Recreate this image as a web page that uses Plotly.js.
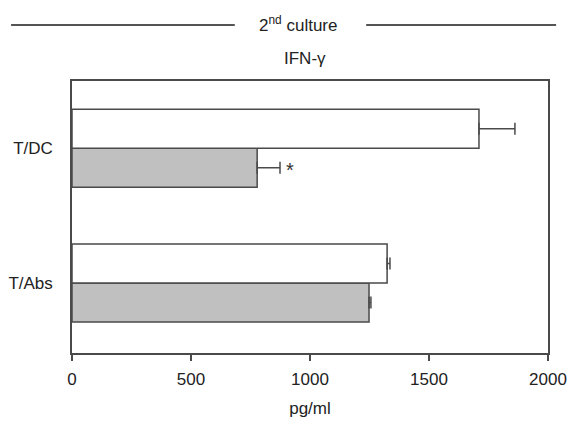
<!DOCTYPE html>
<html>
<head>
<meta charset="utf-8">
<script src="https://cdn.plot.ly/plotly-3.0.1.min.js"></script>
<style>html,body{margin:0;padding:0;background:#fff;}#chart{width:568px;height:421px;}</style>
</head>
<body>
<div id="chart"></div>
<script>
// Data
const groups = ['T/Abs', 'T/DC'];
const groupPos = [0, 1];
const whiteValues = [1324, 1710];
const whiteErrors = [12, 151];
const grayValues = [1248, 778];
const grayErrors = [8, 96];
const xTicks = [0, 500, 1000, 1500, 2000];

const edge = '#4a4a4a';
const fontFam = '"Liberation Sans", Arial, Helvetica, sans-serif';

const grayTrace = {
  type: 'bar', orientation: 'h',
  y: groupPos, x: grayValues,
  marker: {color: '#c0c0c0', line: {color: edge, width: 1.5}},
  error_x: {type: 'data', array: grayErrors, arrayminus: grayErrors.map(() => 0), symmetric: false,
            color: edge, thickness: 1.5, width: 6},
  hoverinfo: 'x'
};
const whiteTrace = {
  type: 'bar', orientation: 'h',
  y: groupPos, x: whiteValues,
  marker: {color: '#ffffff', line: {color: edge, width: 1.5}},
  error_x: {type: 'data', array: whiteErrors, arrayminus: whiteErrors.map(() => 0), symmetric: false,
            color: edge, thickness: 1.5, width: 6},
  hoverinfo: 'x'
};

const layout = {
  width: 568, height: 421,
  margin: {l: 72, r: 20, t: 81, b: 68},
  paper_bgcolor: '#fff', plot_bgcolor: '#fff',
  font: {family: fontFam, size: 17, color: '#222'},
  showlegend: false,
  barmode: 'group',
  bargap: 0.422,
  bargroupgap: 0,
  xaxis: {
    range: [0, 2000], autorange: false,
    tickvals: xTicks, ticktext: xTicks.map(String),
    ticks: 'outside', ticklen: 6, tickwidth: 1.5, tickcolor: edge,
    ticklabelstandoff: 4,
    showline: true, linecolor: edge, linewidth: 1.8, mirror: true,
    showgrid: false, zeroline: false,
    tickfont: {size: 17},
    title: {text: 'pg/ml', font: {size: 17}, standoff: 14}
  },
  yaxis: {
    range: [-0.5185, 1.4985], autorange: false,
    tickvals: groupPos, ticktext: groups,
    ticks: '', ticklabelstandoff: 14,
    showline: true, linecolor: edge, linewidth: 1.8, mirror: true,
    showgrid: false, zeroline: false,
    tickfont: {size: 17}
  },
  shapes: [
    {type: 'line', xref: 'paper', yref: 'paper', x0: -0.128, x1: 0.342, y0: 1.206, y1: 1.206,
     line: {color: '#555', width: 2}},
    {type: 'line', xref: 'paper', yref: 'paper', x0: 0.618, x1: 1.017, y0: 1.206, y1: 1.206,
     line: {color: '#555', width: 2}}
  ],
  annotations: [
    {text: '2<sup>nd</sup> culture', xref: 'paper', yref: 'paper', x: 0.475, y: 1.21,
     showarrow: false, xanchor: 'center', yanchor: 'middle', font: {size: 17}},
    {text: 'IFN-γ', xref: 'paper', yref: 'paper', x: 0.489, y: 1.081,
     showarrow: false, xanchor: 'center', yanchor: 'middle', font: {size: 17}},
    {text: '*', xref: 'x', yref: 'y', x: grayValues[1] + grayErrors[1] + 40, y: groupPos[1] - 0.16,
     showarrow: false, xanchor: 'center', yanchor: 'middle', font: {size: 20, color: '#333'}}
  ]
};

Plotly.newPlot('chart', [grayTrace, whiteTrace], layout, {displayModeBar: false, staticPlot: true});
</script>
</body>
</html>
